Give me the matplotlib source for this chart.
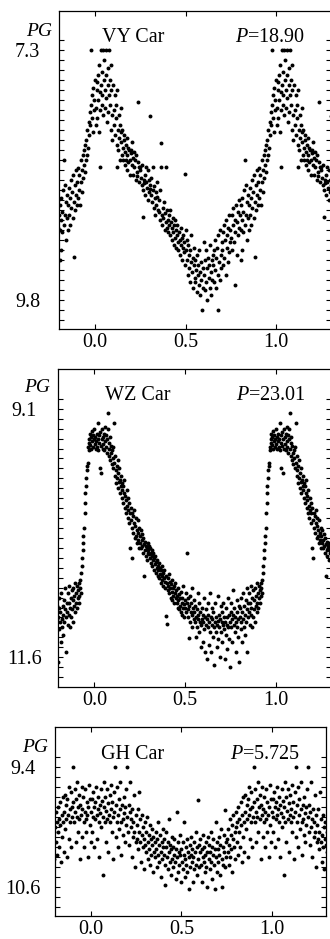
import matplotlib.pyplot as plt
import numpy as np

plt.rcParams['font.family'] = ['Liberation Serif', 'DejaVu Serif']
plt.rcParams['mathtext.fontset'] = 'custom'
plt.rcParams['mathtext.rm'] = 'Liberation Serif'
plt.rcParams['mathtext.it'] = 'Liberation Serif:italic'

# (phase, photographic magnitude), one cycle
vy_car = [
    (0.002, 7.88), (0.005, 8.05), (0.008, 7.70), (0.010, 7.62), (0.012, 7.98), (0.015, 7.55), (0.018, 7.80),
    (0.020, 8.12), (0.022, 7.45), (0.025, 7.72), (0.028, 7.90), (0.030, 7.30), (0.032, 7.65), (0.035, 7.85),
    (0.038, 7.52), (0.040, 7.75), (0.042, 7.30), (0.045, 7.95), (0.047, 7.60), (0.049, 7.40), (0.026, 8.47),
    (0.052, 7.70), (0.055, 7.88), (0.058, 7.30), (0.060, 7.55), (0.062, 7.78), (0.065, 8.02), (0.068, 7.65),
    (0.070, 7.48), (0.072, 7.92), (0.075, 7.75), (0.078, 7.30), (0.080, 7.60), (0.083, 7.85), (0.085, 8.10),
    (0.088, 7.45), (0.090, 7.70), (0.093, 7.95), (0.095, 8.20), (0.098, 7.65),
    (0.102, 7.90), (0.105, 8.05), (0.108, 7.75), (0.110, 8.15), (0.113, 7.98), (0.115, 7.85), (0.118, 8.25),
    (0.120, 8.47), (0.123, 7.70), (0.125, 8.10), (0.128, 8.30), (0.130, 7.95), (0.133, 8.18), (0.135, 8.05),
    (0.138, 8.40), (0.140, 8.12), (0.143, 7.88), (0.145, 8.22), (0.148, 8.35),
    (0.150, 8.10), (0.153, 8.28), (0.155, 8.40), (0.158, 8.20), (0.160, 8.15), (0.163, 8.32), (0.165, 8.45),
    (0.168, 8.25), (0.170, 8.40), (0.173, 8.18), (0.175, 8.35), (0.178, 8.50), (0.180, 8.28), (0.183, 8.42),
    (0.186, 8.30), (0.190, 8.55), (0.193, 8.40), (0.196, 8.33),
    (0.200, 8.30), (0.203, 8.45), (0.206, 8.22), (0.208, 8.38), (0.211, 8.55), (0.214, 8.32), (0.217, 8.47),
    (0.220, 8.40), (0.223, 8.60), (0.226, 8.35), (0.229, 8.56), (0.232, 8.52), (0.235, 8.42), (0.238, 7.82),
    (0.240, 8.62), (0.243, 8.47), (0.246, 8.50),
    (0.250, 8.47), (0.253, 8.58), (0.256, 8.65), (0.259, 8.45), (0.262, 8.97), (0.265, 8.70), (0.268, 8.63),
    (0.271, 8.60), (0.274, 8.55), (0.277, 8.75), (0.280, 8.47), (0.283, 8.62), (0.286, 8.68), (0.289, 8.50),
    (0.292, 8.80), (0.295, 8.60), (0.298, 8.72), (0.300, 7.96),
    (0.302, 8.65), (0.305, 8.69), (0.308, 8.75), (0.311, 8.58), (0.314, 8.82), (0.317, 8.70), (0.320, 8.47),
    (0.323, 8.88), (0.326, 8.66), (0.329, 8.78), (0.332, 8.95), (0.335, 8.72), (0.338, 8.85), (0.341, 8.62),
    (0.344, 8.77), (0.347, 8.90),
    (0.350, 8.80), (0.353, 8.92), (0.356, 8.70), (0.359, 9.00), (0.362, 8.23), (0.365, 8.47), (0.368, 8.95),
    (0.371, 9.05), (0.374, 8.88), (0.377, 8.98), (0.380, 8.82), (0.383, 9.10), (0.386, 8.93), (0.389, 9.02),
    (0.392, 8.47), (0.395, 9.08), (0.398, 8.90),
    (0.401, 9.00), (0.404, 9.12), (0.407, 8.95), (0.410, 9.05), (0.413, 8.90), (0.416, 9.15), (0.419, 9.02),
    (0.422, 9.20), (0.425, 9.08), (0.428, 8.98), (0.431, 9.12), (0.434, 9.25), (0.437, 9.05), (0.440, 9.18),
    (0.443, 9.00), (0.446, 9.10), (0.449, 9.28),
    (0.451, 9.15), (0.454, 9.05), (0.457, 9.22), (0.460, 9.30), (0.463, 9.12), (0.466, 9.20), (0.469, 9.35),
    (0.472, 9.08), (0.475, 9.25), (0.478, 9.18), (0.481, 9.40), (0.484, 9.28), (0.487, 9.15), (0.490, 9.32),
    (0.493, 9.22), (0.494, 8.54), (0.496, 9.45), (0.499, 9.10),
    (0.502, 9.30), (0.505, 9.20), (0.508, 9.40), (0.511, 9.55), (0.514, 9.25), (0.517, 9.35), (0.520, 9.48),
    (0.523, 9.62), (0.526, 9.30), (0.529, 9.42), (0.532, 9.15), (0.535, 9.52), (0.538, 9.38), (0.541, 9.68),
    (0.544, 9.45), (0.547, 9.28), (0.549, 9.58),
    (0.551, 9.40), (0.554, 9.62), (0.557, 9.50), (0.560, 9.72), (0.563, 9.35), (0.566, 9.55), (0.569, 9.45),
    (0.572, 9.65), (0.575, 9.30), (0.578, 9.52), (0.581, 9.75), (0.584, 9.42), (0.587, 9.60), (0.590, 9.90),
    (0.593, 9.48), (0.596, 9.68), (0.599, 9.22),
    (0.602, 9.55), (0.605, 9.40), (0.608, 9.70), (0.611, 9.30), (0.614, 9.62), (0.617, 9.48), (0.620, 9.80),
    (0.623, 9.38), (0.626, 9.58), (0.629, 9.45), (0.632, 9.68), (0.635, 9.25), (0.638, 9.52), (0.641, 9.75),
    (0.644, 9.40), (0.647, 9.60), (0.649, 9.35),
    (0.652, 9.45), (0.655, 9.30), (0.658, 9.62), (0.661, 9.20), (0.664, 9.50), (0.667, 9.38), (0.670, 9.68),
    (0.673, 9.28), (0.676, 9.55), (0.679, 9.15), (0.681, 9.90), (0.684, 9.42), (0.687, 9.60), (0.690, 9.10),
    (0.693, 9.35), (0.696, 9.48), (0.699, 9.22),
    (0.702, 9.30), (0.705, 9.12), (0.708, 9.45), (0.711, 9.05), (0.714, 9.38), (0.717, 9.20), (0.720, 9.55),
    (0.723, 9.00), (0.726, 9.28), (0.729, 9.15), (0.732, 9.42), (0.735, 9.08), (0.738, 9.32), (0.741, 8.95),
    (0.744, 9.22), (0.747, 9.10),
    (0.752, 9.18), (0.755, 8.95), (0.758, 9.30), (0.761, 9.05), (0.764, 8.88), (0.767, 9.22), (0.770, 9.00),
    (0.772, 9.65), (0.775, 9.12), (0.778, 8.85), (0.781, 9.35), (0.784, 9.02), (0.787, 8.92), (0.790, 9.15),
    (0.793, 8.80), (0.796, 9.08),
    (0.801, 8.95), (0.803, 9.40), (0.804, 9.10), (0.807, 8.85), (0.810, 9.00), (0.812, 9.30), (0.813, 8.78),
    (0.816, 9.12), (0.819, 8.92), (0.822, 8.70), (0.825, 9.05), (0.828, 8.40), (0.831, 8.95), (0.834, 8.65),
    (0.837, 9.20), (0.840, 8.82), (0.843, 8.98), (0.846, 8.75), (0.849, 9.10),
    (0.851, 8.85), (0.854, 8.68), (0.857, 8.95), (0.860, 8.78), (0.863, 9.05), (0.866, 8.60), (0.869, 8.88),
    (0.872, 8.72), (0.875, 8.98), (0.878, 8.55), (0.881, 8.82), (0.883, 9.37), (0.886, 8.65), (0.889, 8.90),
    (0.892, 8.50), (0.895, 8.75), (0.898, 8.85),
    (0.901, 8.62), (0.904, 8.78), (0.907, 8.48), (0.910, 8.70), (0.913, 8.55), (0.916, 8.85), (0.919, 8.40),
    (0.922, 8.62), (0.925, 8.50), (0.928, 8.72), (0.931, 8.35), (0.934, 8.58), (0.937, 8.45), (0.940, 8.30),
    (0.943, 8.52), (0.946, 8.25), (0.949, 8.40),
    (0.951, 8.20), (0.954, 8.35), (0.957, 8.10), (0.960, 8.28), (0.963, 8.02), (0.966, 8.15), (0.969, 7.92),
    (0.972, 8.05), (0.975, 7.30), (0.977, 7.85), (0.980, 7.98), (0.983, 7.75), (0.986, 8.12), (0.989, 7.68),
    (0.992, 7.90), (0.995, 7.80), (0.998, 7.60),
]

wz_car = [
    (0.002, 9.45), (0.005, 9.38), (0.008, 9.50), (0.010, 9.42), (0.013, 9.35), (0.015, 9.48), (0.018, 9.40),
    (0.020, 9.24), (0.022, 9.52), (0.025, 9.36), (0.028, 9.44), (0.030, 9.70), (0.032, 9.33), (0.035, 9.47),
    (0.038, 9.75), (0.040, 9.40), (0.043, 9.30), (0.045, 9.50), (0.048, 9.38),
    (0.050, 9.45), (0.053, 9.35), (0.055, 9.52), (0.058, 9.28), (0.060, 9.42), (0.063, 9.48), (0.065, 9.36),
    (0.068, 9.55), (0.070, 9.40), (0.073, 9.30), (0.075, 9.14), (0.078, 9.50), (0.080, 9.44), (0.083, 9.58),
    (0.085, 9.38), (0.088, 9.62), (0.090, 9.47), (0.093, 9.55), (0.096, 9.66), (0.098, 9.52),
    (0.100, 9.60), (0.103, 9.70), (0.105, 9.48), (0.108, 9.24), (0.110, 9.65), (0.113, 9.78), (0.115, 9.58),
    (0.118, 9.72), (0.120, 9.85), (0.123, 9.68), (0.125, 9.80), (0.128, 9.62), (0.130, 9.90), (0.133, 9.75),
    (0.135, 9.84), (0.138, 9.70), (0.140, 9.95), (0.143, 9.82), (0.146, 9.88), (0.148, 9.78),
    (0.150, 9.92), (0.153, 9.85), (0.155, 10.00), (0.158, 9.88), (0.160, 10.05), (0.163, 9.95), (0.165, 9.82),
    (0.168, 10.10), (0.170, 9.98), (0.173, 10.02), (0.175, 10.15), (0.178, 9.92), (0.180, 10.08), (0.183, 10.20),
    (0.185, 10.00), (0.188, 10.12), (0.190, 10.05), (0.193, 10.25), (0.195, 10.15), (0.198, 10.50),
    (0.200, 10.10), (0.203, 10.22), (0.205, 10.60), (0.208, 10.15), (0.210, 10.30), (0.213, 10.18), (0.215, 10.35),
    (0.218, 10.25), (0.220, 10.12), (0.223, 10.40), (0.225, 10.28), (0.228, 10.20), (0.230, 10.38), (0.233, 10.32),
    (0.235, 10.45), (0.238, 10.22), (0.240, 10.35), (0.243, 10.42), (0.246, 10.30), (0.248, 10.50),
    (0.250, 10.38), (0.253, 10.45), (0.255, 10.32), (0.258, 10.50), (0.260, 10.42), (0.263, 10.36), (0.265, 10.48),
    (0.268, 10.55), (0.270, 10.40), (0.273, 10.46), (0.275, 10.78), (0.278, 10.52), (0.280, 10.44), (0.283, 10.58),
    (0.285, 10.48), (0.288, 10.50), (0.290, 10.62), (0.293, 10.45), (0.296, 10.55), (0.298, 10.52),
    (0.300, 10.48), (0.303, 10.56), (0.305, 10.60), (0.308, 10.50), (0.310, 10.65), (0.313, 10.55), (0.315, 10.52),
    (0.318, 10.68), (0.320, 10.58), (0.323, 10.62), (0.325, 10.55), (0.328, 10.72), (0.330, 10.60), (0.333, 10.66),
    (0.335, 10.58), (0.338, 10.75), (0.340, 10.64), (0.343, 10.70), (0.346, 10.62), (0.348, 10.78),
    (0.350, 10.68), (0.353, 10.72), (0.355, 10.65), (0.358, 10.80), (0.360, 10.70), (0.363, 10.76), (0.365, 10.85),
    (0.368, 10.72), (0.370, 10.78), (0.373, 10.68), (0.375, 10.82), (0.378, 10.75), (0.380, 10.88), (0.383, 10.80),
    (0.385, 10.72), (0.388, 10.90), (0.390, 10.84), (0.393, 11.19), (0.396, 10.78), (0.398, 11.27),
    (0.400, 10.85), (0.403, 10.80), (0.405, 10.92), (0.408, 10.88), (0.410, 10.76), (0.413, 10.95), (0.415, 10.84),
    (0.418, 10.90), (0.420, 11.00), (0.423, 10.86), (0.425, 10.94), (0.428, 10.82), (0.430, 11.02), (0.433, 10.90),
    (0.435, 10.98), (0.438, 10.88), (0.440, 11.05), (0.443, 10.95), (0.446, 10.85), (0.448, 11.00),
    (0.450, 10.92), (0.453, 11.05), (0.455, 10.98), (0.458, 11.10), (0.460, 10.90), (0.463, 11.02), (0.465, 11.12),
    (0.468, 10.96), (0.470, 11.08), (0.473, 11.00), (0.475, 11.15), (0.478, 10.94), (0.480, 11.05), (0.483, 11.18),
    (0.485, 11.00), (0.488, 11.10), (0.490, 10.88), (0.493, 11.06), (0.496, 11.20), (0.498, 11.02),
    (0.500, 11.10), (0.503, 10.95), (0.505, 11.15), (0.508, 11.05), (0.510, 10.55), (0.513, 11.20), (0.515, 11.00),
    (0.518, 11.12), (0.520, 11.41), (0.523, 11.08), (0.525, 11.25), (0.528, 10.98), (0.530, 11.15), (0.533, 11.05),
    (0.535, 11.30), (0.538, 10.90), (0.540, 11.18), (0.543, 11.10), (0.546, 11.22), (0.548, 11.02),
    (0.550, 11.15), (0.553, 11.25), (0.555, 11.08), (0.558, 11.40), (0.560, 11.20), (0.563, 11.12), (0.565, 11.30),
    (0.568, 10.95), (0.570, 11.22), (0.573, 11.18), (0.575, 11.35), (0.578, 11.05), (0.580, 11.25), (0.583, 11.15),
    (0.585, 11.50), (0.588, 11.28), (0.590, 11.10), (0.593, 11.22), (0.596, 11.45), (0.598, 11.18),
    (0.600, 11.25), (0.603, 11.00), (0.605, 11.32), (0.608, 11.20), (0.610, 11.55), (0.613, 11.12), (0.615, 11.28),
    (0.618, 11.22), (0.620, 11.62), (0.623, 11.05), (0.625, 11.30), (0.628, 11.18), (0.630, 11.48), (0.633, 11.25),
    (0.635, 10.95), (0.638, 11.35), (0.640, 11.20), (0.643, 11.55), (0.646, 11.28), (0.648, 11.10),
    (0.650, 11.22), (0.653, 11.40), (0.655, 11.15), (0.658, 11.30), (0.660, 11.68), (0.663, 11.25), (0.665, 11.05),
    (0.668, 11.35), (0.670, 11.20), (0.673, 11.50), (0.675, 11.28), (0.678, 10.98), (0.680, 11.24), (0.683, 11.42),
    (0.685, 11.18), (0.688, 11.30), (0.690, 11.60), (0.693, 11.22), (0.696, 11.08), (0.698, 11.35),
    (0.700, 11.25), (0.703, 11.15), (0.705, 11.45), (0.708, 11.28), (0.710, 11.05), (0.713, 11.32), (0.715, 11.20),
    (0.718, 11.62), (0.720, 11.25), (0.723, 11.38), (0.725, 11.10), (0.728, 11.28), (0.730, 11.52), (0.733, 11.20),
    (0.735, 11.00), (0.738, 11.30), (0.740, 11.42), (0.743, 11.18), (0.746, 11.70), (0.748, 11.25),
    (0.750, 11.15), (0.753, 11.30), (0.755, 11.05), (0.758, 11.22), (0.760, 11.45), (0.763, 11.18), (0.765, 10.92),
    (0.768, 11.28), (0.770, 11.10), (0.773, 11.35), (0.775, 11.20), (0.778, 11.55), (0.780, 11.25), (0.783, 11.02),
    (0.785, 11.30), (0.788, 11.15), (0.790, 11.40), (0.793, 11.22), (0.796, 11.08), (0.798, 11.65),
    (0.800, 11.20), (0.803, 11.10), (0.805, 11.32), (0.808, 11.00), (0.810, 11.25), (0.813, 11.15), (0.815, 11.45),
    (0.818, 10.95), (0.820, 11.22), (0.823, 11.30), (0.825, 11.08), (0.828, 11.18), (0.830, 11.38), (0.833, 11.02),
    (0.835, 11.25), (0.838, 10.90), (0.840, 11.12), (0.843, 11.55), (0.846, 11.20), (0.848, 11.05),
    (0.850, 11.15), (0.853, 10.95), (0.855, 11.28), (0.858, 11.05), (0.860, 11.18), (0.863, 10.88), (0.865, 11.10),
    (0.868, 11.30), (0.870, 11.00), (0.873, 11.20), (0.875, 10.92), (0.878, 11.12), (0.880, 11.02), (0.883, 11.25),
    (0.885, 10.90), (0.888, 11.08), (0.890, 10.98), (0.893, 11.15), (0.896, 10.85), (0.898, 11.05),
    (0.900, 10.95), (0.903, 11.10), (0.905, 10.88), (0.908, 11.00), (0.910, 10.92), (0.913, 11.05), (0.915, 10.85),
    (0.918, 10.98), (0.920, 10.90), (0.923, 10.82), (0.925, 10.95), (0.928, 10.75), (0.930, 10.68), (0.933, 10.60),
    (0.936, 10.52), (0.938, 10.45), (0.940, 10.38), (0.943, 10.30), (0.946, 10.15), (0.948, 10.05),
    (0.950, 9.95), (0.953, 9.88), (0.955, 9.80), (0.958, 9.72), (0.960, 9.68), (0.963, 9.65), (0.965, 9.48),
    (0.968, 9.52), (0.970, 9.44), (0.973, 9.40), (0.975, 9.35), (0.978, 9.46), (0.980, 9.38), (0.983, 9.50),
    (0.985, 9.32), (0.988, 9.42), (0.990, 9.36), (0.993, 9.48), (0.996, 9.40), (0.998, 9.30),
]

gh_car = [
    (0.001, 9.85), (0.004, 9.72), (0.006, 10.05), (0.009, 9.90), (0.012, 9.65), (0.015, 9.80), (0.018, 10.20),
    (0.021, 9.92), (0.024, 9.75), (0.027, 9.60), (0.030, 9.88), (0.033, 10.12), (0.036, 9.82), (0.039, 9.70),
    (0.042, 9.95), (0.045, 10.30), (0.048, 9.78),
    (0.051, 9.86), (0.054, 9.62), (0.057, 10.00), (0.060, 9.74), (0.063, 9.90), (0.066, 10.48), (0.069, 9.80),
    (0.072, 9.55), (0.075, 9.95), (0.078, 9.70), (0.081, 10.15), (0.084, 9.84), (0.087, 9.62), (0.090, 9.92),
    (0.093, 10.25), (0.096, 9.76), (0.099, 9.88),
    (0.102, 9.68), (0.105, 9.95), (0.108, 9.82), (0.111, 9.58), (0.114, 10.05), (0.117, 9.75), (0.120, 9.90),
    (0.123, 10.32), (0.126, 9.65), (0.129, 9.85), (0.132, 9.40), (0.135, 10.10), (0.138, 9.78), (0.141, 9.95),
    (0.144, 9.60), (0.147, 10.20),
    (0.150, 9.88), (0.153, 9.72), (0.156, 10.02), (0.159, 9.82), (0.162, 9.55), (0.165, 9.95), (0.168, 10.28),
    (0.171, 9.78), (0.174, 9.92), (0.177, 10.08), (0.180, 9.70), (0.183, 9.86), (0.186, 10.15), (0.189, 9.80),
    (0.192, 9.98), (0.195, 9.62), (0.198, 9.40),
    (0.201, 9.90), (0.204, 10.05), (0.207, 9.78), (0.210, 10.18), (0.213, 9.85), (0.216, 9.55), (0.219, 10.00),
    (0.222, 9.92), (0.225, 10.30), (0.228, 9.82), (0.231, 10.10), (0.234, 9.95), (0.237, 9.68), (0.240, 10.05),
    (0.243, 10.40), (0.246, 9.88), (0.249, 10.15),
    (0.252, 9.98), (0.255, 10.12), (0.258, 9.82), (0.261, 10.22), (0.264, 10.05), (0.267, 9.65), (0.270, 10.15),
    (0.273, 9.92), (0.276, 10.35), (0.279, 10.08), (0.282, 9.88), (0.285, 10.20), (0.288, 10.00), (0.291, 10.42),
    (0.294, 10.12), (0.297, 9.95),
    (0.300, 10.18), (0.303, 10.05), (0.306, 10.25), (0.309, 9.90), (0.312, 10.15), (0.315, 10.32), (0.318, 10.08),
    (0.321, 10.22), (0.324, 9.98), (0.327, 10.38), (0.330, 10.12), (0.333, 10.28), (0.336, 10.02), (0.339, 10.18),
    (0.342, 10.45), (0.345, 10.10), (0.348, 10.25),
    (0.351, 10.15), (0.354, 10.30), (0.357, 10.05), (0.360, 10.22), (0.363, 10.40), (0.366, 10.12), (0.369, 9.95),
    (0.372, 10.28), (0.375, 10.18), (0.378, 10.35), (0.381, 10.08), (0.384, 10.25), (0.387, 10.50), (0.390, 10.15),
    (0.393, 10.32), (0.396, 10.02), (0.399, 10.20),
    (0.402, 10.28), (0.405, 10.12), (0.408, 10.38), (0.411, 10.58), (0.414, 10.20), (0.417, 10.05), (0.420, 10.30),
    (0.423, 10.15), (0.426, 10.42), (0.429, 10.25), (0.432, 9.92), (0.435, 10.35), (0.438, 10.18), (0.441, 10.48),
    (0.444, 10.22), (0.447, 10.10), (0.449, 10.32),
    (0.452, 10.20), (0.455, 10.40), (0.458, 10.28), (0.461, 10.12), (0.464, 10.35), (0.467, 10.52), (0.470, 10.22),
    (0.473, 9.85), (0.476, 10.30), (0.479, 10.15), (0.482, 10.45), (0.485, 10.25), (0.488, 10.38), (0.491, 10.08),
    (0.494, 10.28), (0.497, 10.55),
    (0.500, 10.22), (0.503, 10.35), (0.506, 10.15), (0.509, 10.42), (0.512, 10.28), (0.515, 9.95), (0.518, 10.32),
    (0.521, 10.50), (0.524, 10.20), (0.527, 10.38), (0.530, 10.12), (0.533, 10.45), (0.536, 10.25), (0.539, 10.62),
    (0.542, 10.30), (0.545, 10.18), (0.548, 10.40),
    (0.551, 10.28), (0.554, 10.10), (0.557, 10.35), (0.560, 10.22), (0.563, 10.55), (0.566, 10.30), (0.569, 10.15),
    (0.572, 10.42), (0.575, 10.25), (0.578, 10.05), (0.581, 10.38), (0.584, 10.20), (0.587, 10.48), (0.590, 9.73),
    (0.593, 10.32), (0.596, 10.18), (0.599, 10.40),
    (0.602, 10.25), (0.605, 10.12), (0.608, 10.38), (0.611, 10.22), (0.614, 10.55), (0.617, 10.30), (0.620, 10.08),
    (0.623, 10.35), (0.626, 10.20), (0.629, 10.45), (0.632, 10.28), (0.635, 10.15), (0.638, 10.40), (0.641, 10.60),
    (0.644, 10.25), (0.647, 10.10),
    (0.650, 10.32), (0.653, 10.18), (0.656, 10.42), (0.659, 10.25), (0.662, 10.05), (0.665, 10.35), (0.668, 10.20),
    (0.671, 10.52), (0.674, 10.28), (0.677, 10.12), (0.680, 10.38), (0.683, 10.22), (0.686, 10.62), (0.689, 9.95),
    (0.692, 10.30), (0.695, 10.15), (0.698, 10.45),
    (0.701, 10.22), (0.704, 10.35), (0.707, 10.10), (0.710, 10.28), (0.713, 10.48), (0.716, 10.18), (0.719, 10.02),
    (0.722, 10.32), (0.725, 10.60), (0.728, 10.20), (0.731, 10.38), (0.734, 10.08), (0.737, 10.25), (0.740, 9.83),
    (0.743, 10.40), (0.746, 10.15), (0.749, 10.30),
    (0.752, 10.12), (0.755, 10.25), (0.758, 10.02), (0.761, 10.38), (0.764, 10.18), (0.767, 9.92), (0.770, 10.30),
    (0.773, 10.08), (0.776, 10.22), (0.779, 9.98), (0.782, 10.45), (0.785, 10.12), (0.788, 9.88), (0.791, 10.20),
    (0.794, 10.05), (0.797, 10.32),
    (0.800, 10.00), (0.803, 9.85), (0.806, 10.15), (0.809, 9.95), (0.812, 10.28), (0.815, 9.80), (0.818, 10.05),
    (0.821, 9.92), (0.824, 10.20), (0.827, 9.75), (0.830, 9.98), (0.833, 10.35), (0.836, 9.88), (0.839, 10.10),
    (0.842, 9.70), (0.845, 9.95), (0.848, 10.25),
    (0.851, 9.85), (0.854, 9.68), (0.857, 10.02), (0.860, 9.78), (0.863, 9.92), (0.866, 10.30), (0.869, 9.72),
    (0.872, 9.88), (0.875, 9.60), (0.878, 10.12), (0.881, 9.82), (0.884, 9.95), (0.887, 9.65), (0.890, 10.20),
    (0.893, 9.80), (0.896, 9.90), (0.899, 9.40),
    (0.902, 9.75), (0.905, 9.95), (0.908, 9.62), (0.911, 9.85), (0.914, 10.15), (0.917, 9.72), (0.920, 9.90),
    (0.923, 9.55), (0.926, 10.05), (0.929, 9.80), (0.932, 9.68), (0.935, 9.92), (0.938, 10.32), (0.941, 9.78),
    (0.944, 9.88), (0.947, 9.60), (0.949, 10.10),
    (0.952, 9.82), (0.955, 9.70), (0.958, 9.95), (0.961, 10.20), (0.964, 9.85), (0.967, 9.62), (0.970, 9.92),
    (0.973, 10.05), (0.976, 9.75), (0.979, 9.88), (0.982, 10.30), (0.985, 9.80), (0.988, 9.58), (0.991, 9.98),
    (0.994, 9.72), (0.997, 10.15),
]

star_names = ['VY Car', 'WZ Car', 'GH Car']
periods = ['18.90', '23.01', '5.725']
mag_labels = [[7.3, 9.8], [9.1, 11.6], [9.4, 10.6]]
mag_ticks = [(7.2, 10.0), (9.0, 11.8), (9.3, 10.8)]
mag_limits = [(10.09, 6.91), (11.9, 8.70), (10.89, 9.0)]
phase_ticks = [0.0, 0.5, 1.0]
phase_labels = ['0.0', '0.5', '1.0']

FIG_W, FIG_H = 330, 939
# axes boxes in pixels: left, top, right, bottom
boxes = [(59, 11, 330.5, 329), (58, 369, 330.5, 687), (55, 727, 326, 916)]
# distance from left spine to centre of the y tick labels, pixels
label_offsets = [31.5, 33.5, 32]
# where the name / period / PG texts sit (axes fractions)
name_pos = [(0.159, 0.918), (0.173, 0.918), (0.169, 0.857)]
period_x = [0.908, 0.908, 0.904]
pg_pos = [(-0.027, 0.937), (-0.029, 0.942), (-0.025, 0.889)]


def px_to_rect(box):
    left, top, right, bottom = box
    return [left / FIG_W, (FIG_H - bottom) / FIG_H, (right - left) / FIG_W, (bottom - top) / FIG_H]


def draw_panel(fig, i, points):
    ax = fig.add_axes(px_to_rect(boxes[i]))
    phase = np.array([p[0] for p in points])
    mag = np.array([p[1] for p in points])
    # folded curve repeated one cycle each side
    for shift in (-1, 0, 1):
        ax.scatter(phase + shift, mag, s=8, c='black', marker='o', linewidths=0)

    ax.set_xlim(-0.2, 1.3)
    ax.set_ylim(*mag_limits[i])

    ax.set_xticks(phase_ticks, phase_labels)
    lo, hi = mag_ticks[i]
    ax.set_yticks(np.round(np.arange(lo, hi + 0.01, 0.1), 1), minor=True)
    ax.set_yticks(mag_labels[i], [f'{v:.1f}' for v in mag_labels[i]])

    pad_pt = label_offsets[i] * 72 / 100
    ax.tick_params(axis='x', which='major', direction='in', top=True, length=3.8,
                   width=0.8, labelsize=14.5, pad=3)
    ax.tick_params(axis='y', which='both', direction='in', right=True, length=3.6,
                   width=0.8, labelsize=14.5, pad=pad_pt)
    for lbl in ax.get_yticklabels():
        lbl.set_horizontalalignment('center')
    for spine in ax.spines.values():
        spine.set_linewidth(0.9)

    ax.text(name_pos[i][0], name_pos[i][1], star_names[i], transform=ax.transAxes,
            ha='left', va='center', fontsize=14.5)
    ax.text(period_x[i], name_pos[i][1], r'$P$=' + periods[i], transform=ax.transAxes,
            ha='right', va='center', fontsize=14.5)
    ax.text(pg_pos[i][0], pg_pos[i][1], 'PG', transform=ax.transAxes, ha='right',
            va='center', fontsize=14, style='italic')
    return ax


def main():
    fig = plt.figure(figsize=(FIG_W / 100, FIG_H / 100), dpi=100)
    for i, points in enumerate([vy_car, wz_car, gh_car]):
        draw_panel(fig, i, points)
    fig.savefig('out.png', dpi=100)


if __name__ == "__main__":
    main()
